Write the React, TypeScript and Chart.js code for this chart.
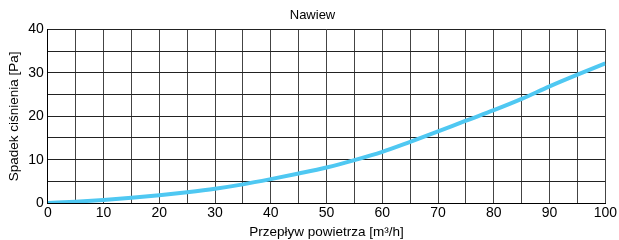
import React, { useEffect, useRef } from 'react';
import { Chart, registerables } from 'chart.js';
Chart.register(...registerables);

const flow = [0, 5, 10, 15, 20, 25, 30, 35, 40, 45, 50, 55, 60, 65, 70, 75, 80, 85, 90, 95, 100];
const pressure = [0, 0.3, 0.7, 1.2, 1.8, 2.5, 3.3, 4.3, 5.5, 6.8, 8.2, 9.9, 11.8, 14.1, 16.5, 19.0, 21.4, 24.0, 26.9, 29.6, 32.2];
const xLabelStep = 10;
const yLabelStep = 10;
const titleText = 'Nawiew';
const xTitle = 'Przepływ powietrza [m³/h]';
const yTitle = 'Spadek ciśnienia [Pa]';

const FONT = "'Liberation Sans', Arial, sans-serif";

export default function App() {
  const ref = useRef<HTMLCanvasElement>(null);
  useEffect(() => {
    document.body.style.margin = '0';
    const chart = new Chart(ref.current!, {
      type: 'line',
      data: {
        datasets: [
          {
            data: flow.map((x, i) => ({ x, y: pressure[i] })),
            borderColor: '#4FC8F2',
            borderWidth: 4,
            pointRadius: 0,
            cubicInterpolationMode: 'monotone',
            borderCapStyle: 'butt',
          },
        ],
      },
      options: {
        responsive: false,
        animation: false,
        layout: { padding: { left: 6, right: 0, top: 4, bottom: 0 } },
        plugins: {
          legend: { display: false },
          tooltip: { enabled: false },
          title: {
            display: true,
            text: titleText,
            color: '#000',
            font: { family: FONT, size: 13, weight: 'normal' },
            padding: { top: 4, bottom: 6 },
          },
        },
        scales: {
          x: {
            type: 'linear',
            min: 0,
            max: 100,
            ticks: {
              stepSize: 5,
              autoSkip: false,
              maxRotation: 0,
              color: '#000',
              padding: 2,
              font: { family: FONT, size: 14 },
              callback: (v: any) => (Number(v) % xLabelStep === 0 ? String(v) : ''),
            },
            grid: { color: '#444', lineWidth: 1, drawTicks: false },
            border: { color: '#000', width: 1 },
            title: {
              display: true,
              text: xTitle,
              color: '#000',
              font: { family: FONT, size: 13.5 },
              padding: { top: 0, bottom: 0 },
            },
          },
          y: {
            type: 'linear',
            min: 0,
            max: 40,
            ticks: {
              stepSize: 5,
              autoSkip: false,
              color: '#000',
              padding: 4,
              font: { family: FONT, size: 14 },
              callback: (v: any) => (Number(v) % yLabelStep === 0 ? String(v) : ''),
            },
            grid: { color: '#222', lineWidth: 1, drawTicks: false },
            border: { color: '#000', width: 1 },
            title: {
              display: true,
              text: yTitle,
              color: '#000',
              font: { family: FONT, size: 13.5 },
              padding: { top: 0, bottom: 2 },
            },
          },
        },
      },
    });
    return () => chart.destroy();
  }, []);
  return <canvas ref={ref} width={619} height={240} style={{ display: 'block' }} />;
}
